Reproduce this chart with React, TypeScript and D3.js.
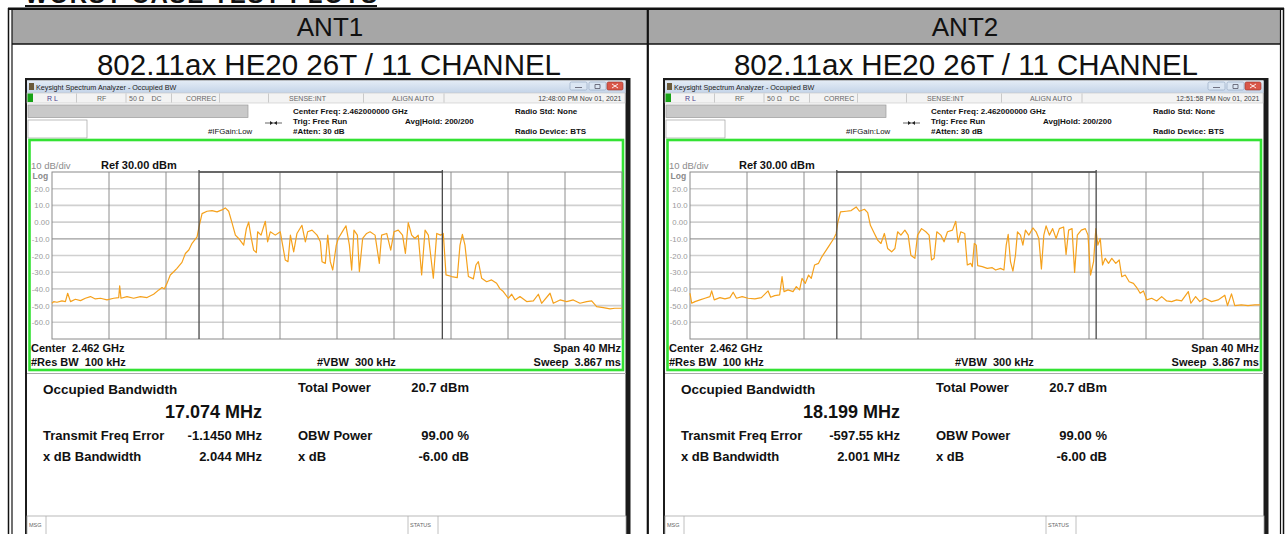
import React from 'react';
import * as d3 from 'd3';

type Pt = [number, number];

// table text
const antennas = ['ANT1', 'ANT2'];
const modeLabel = '802.11ax HE20 26T / 11 CHANNEL';

// analyzer readouts per antenna
const timestamps = ['12:48:00 PM Nov 01, 2021', '12:51:58 PM Nov 01, 2021'];
const obwMHz = [17.074, 18.199];
const freqErrMHz = [-1.145, -0.59755];
const freqErrText = ['-1.1450 MHz', '-597.55 kHz'];
const xdbBwText = ['2.044 MHz', '2.001 MHz'];
const totalPowerText = ['20.7 dBm', '20.7 dBm'];

// y axis labels (dBm)
const levelTicks = [20, 10, 0, -10, -20, -30, -40, -50, -60];
const levelTickText = ['20.0', '10.0', '0.00', '-10.0', '-20.0', '-30.0', '-40.0', '-50.0', '-60.0'];

// traces: [offset from center MHz, dBm]
const ant1Trace: Pt[] = [
  [-20, -48.6], [-19.88, -47.6], [-19.65, -48], [-19.3, -47.2], [-19.06, -47.6], [-18.9, -42.6], [-18.7, -47.6],
  [-18.36, -46.2], [-18, -47], [-17.66, -45.6], [-17.3, -44.6], [-16.96, -46], [-16.6, -45.6], [-16.14, -46.6],
  [-15.67, -45.6], [-15.32, -45.2], [-15.25, -38.2], [-15.16, -45.6], [-14.74, -44.6], [-14.27, -45.6], [-13.8, -44.6],
  [-13.33, -45.2], [-12.87, -43.2], [-12.5, -40.6], [-12.28, -39.2], [-12.12, -40], [-11.93, -36.7], [-11.7, -31.7],
  [-11.46, -29.7], [-11.23, -27.7], [-10.88, -24.1], [-10.64, -18.8], [-10.4, -16.7], [-10.17, -12.7], [-9.82, -8.8],
  [-9.66, -1.9], [-9.47, 5.1], [-9.12, 6.5], [-8.77, 6.9], [-8.42, 6.1], [-8.07, 7.3], [-7.84, 8.5], [-7.6, 6.5],
  [-7.37, -0.3], [-7.13, -7.8], [-6.9, -9.8], [-6.55, -13.8], [-6.36, -3.9], [-6.2, 0], [-6.03, -8.8], [-5.85, -16.8],
  [-5.66, -18.2], [-5.57, -5.8], [-5.33, -7.8], [-5.03, 0.5], [-4.87, -11.8], [-4.68, -5.8], [-4.33, -7.8], [-3.98, -5.8],
  [-3.63, -22.7], [-3.44, -23.7], [-3.27, -7.8], [-3.04, -17.8], [-2.81, -6.8], [-2.46, -1.9], [-2.22, -11.8],
  [-2.06, -5.8], [-1.75, -4.8], [-1.4, -7.8], [-1.17, -11.8], [-1.05, -23.7], [-0.82, -24.7], [-0.65, -7.8],
  [-0.47, -23.7], [-0.3, -28.7], [-0.05, -13.8], [0.09, -9.8], [0.44, -4.8], [0.63, -2.2], [0.87, -13.8], [1.03, -28.7],
  [1.19, -4.8], [1.43, -7.8], [1.57, -29.6], [1.8, -9.8], [2.08, -6.8], [2.32, -5.8], [2.67, -7.8], [2.97, -24.7],
  [3.13, -7.8], [3.49, -6.8], [3.77, -16.8], [4, -5.8], [4.3, -4.8], [4.6, -7.8], [4.8, -18.8], [5, -0.3], [5.24, -7.8],
  [5.47, -9.8], [5.7, -7.8], [5.94, -31.6], [6.18, -4.8], [6.41, -7.8], [6.76, -33.6], [7, -6.8], [7.27, -7.8],
  [7.46, -6.8], [7.65, -31.6], [8.05, -32.6], [8.44, -33.2], [8.63, -13.8], [8.8, -7.4], [8.98, -13.8], [9.22, -32.6],
  [9.57, -34], [9.75, -25.7], [9.92, -23.7], [10.15, -33.6], [10.5, -35.7], [10.85, -34.6], [11.2, -36.6], [11.44, -40],
  [11.67, -41.6], [12.02, -45.6], [12.26, -43.2], [12.49, -46.6], [12.84, -44.6], [13.31, -47.6], [13.78, -47.2],
  [14.13, -43.2], [14.36, -48.6], [14.95, -42.6], [15.18, -48.6], [15.65, -46.6], [16.12, -47.6], [16.58, -46.6],
  [17.05, -48.6], [17.52, -47.6], [17.87, -47.2], [18.22, -50.6], [18.69, -51.2], [19.16, -52], [19.5, -51.6], [20, -51.6],
];

const ant2Trace: Pt[] = [
  [-20, -42.6], [-19.88, -48.6], [-19.65, -47.6], [-19.3, -46.6], [-18.95, -45.6], [-18.6, -44.6], [-18.48, -41.2],
  [-18.3, -46.6], [-17.9, -45.2], [-17.55, -46], [-17.2, -45.2], [-16.97, -42], [-16.74, -45.6], [-16.34, -44.6],
  [-15.92, -45.6], [-15.45, -46], [-14.99, -45.2], [-14.52, -41.2], [-14.34, -45], [-14.06, -44], [-13.71, -43.6],
  [-13.54, -32.7], [-13.4, -41.6], [-13.12, -40.6], [-12.77, -41.6], [-12.54, -38.6], [-12.31, -40.6], [-12.14, -33.7],
  [-11.91, -36.7], [-11.68, -31.7], [-11.49, -33.7], [-11.26, -25.7], [-10.98, -24.7], [-10.75, -20.8], [-10.44, -16.8],
  [-10.21, -13.8], [-9.91, -9.8], [-9.74, -6.8], [-9.63, -0.3], [-9.44, 6.1], [-9.04, 6.5], [-8.69, 6.9], [-8.34, 9.1],
  [-8.11, 6.5], [-7.76, 7.7], [-7.53, 5.7], [-7.34, -1.9], [-7.06, -6.8], [-6.83, -10.8], [-6.6, -12.8], [-6.36, -6.8],
  [-6.13, -15.8], [-5.85, -17.8], [-5.62, -15.8], [-5.43, -5.8], [-5.2, -7.8], [-4.92, -4.8], [-4.69, -7.8], [-4.5, -19.8],
  [-4.22, -21.7], [-4.03, -7.8], [-3.75, -3.9], [-3.45, -5.8], [-3.22, -7.8], [-3.05, -22.7], [-2.87, -21.7], [-2.68, -5.8],
  [-2.4, -7.8], [-2.17, -11.8], [-1.93, -5.8], [-1.58, -4.8], [-1.35, 0.5], [-1.19, -12.2], [-1, -5.8], [-0.72, -6.8],
  [-0.54, -25.7], [-0.3, -24.7], [-0.19, -26.7], [-0.05, -12.8], [0.09, -13.8], [0.19, -26.1], [0.51, -26.7],
  [0.86, -27.7], [1.21, -27.3], [1.45, -28.7], [1.79, -27.7], [2.03, -28.7], [2.19, -13.8], [2.33, -7.4], [2.49, -23.7],
  [2.66, -29.3], [2.84, -19.8], [2.98, -5.8], [3.19, -7.8], [3.36, -13.8], [3.54, -4.8], [3.78, -7.8], [4.06, -3.5],
  [4.29, -5.8], [4.48, -9.8], [4.66, -28.1], [4.83, -7.8], [4.99, -2.3], [5.22, -7.8], [5.45, -3.9], [5.69, -9.8],
  [5.92, -3.9], [6.22, -2.9], [6.39, -19.4], [6.57, -4.8], [6.81, -3.9], [6.99, -30.1], [7.18, -7.8], [7.46, -4.8],
  [7.74, -3.9], [7.93, -7.8], [8.11, -31.7], [8.32, -23.7], [8.48, -3.9], [8.62, -13.8], [8.79, -9.8], [8.95, -25.7],
  [9.14, -21.7], [9.37, -24.7], [9.6, -21.7], [9.88, -24.7], [10.12, -22.7], [10.3, -32.7], [10.54, -31.7],
  [10.82, -35.7], [11.12, -36.7], [11.35, -39.2], [11.59, -42.6], [11.82, -41.2], [12.05, -46.6], [12.4, -45.6],
  [12.75, -47.2], [13.1, -44.6], [13.45, -47.2], [13.8, -47.6], [14.15, -46.6], [14.5, -47.2], [14.97, -41.6],
  [15.15, -48.6], [15.48, -44.6], [15.78, -47.6], [16.13, -45.6], [16.6, -47.6], [17.06, -46.6], [17.53, -43.8],
  [17.72, -50], [18, -43], [18.23, -50], [18.69, -49.6], [19.16, -50], [19.63, -49.6], [20, -49.6],
];

const traces = [ant1Trace, ant2Trace];
const FONT = "'Liberation Sans', Arial, sans-serif";

function Screen({ idx }: { idx: number }) {
  const ox = idx === 0 ? 0 : 638;
  const x = d3.scaleLinear().domain([-20, 20]).range([52 + ox, 622 + ox]);
  const y = d3.scaleLinear().domain([-70, 30]).range([339, 172]);
  const line = d3.line<Pt>().x(d => x(d[0])).y(d => y(d[1]));
  const gridX = d3.range(-16, 20, 4);
  const gridY = d3.range(-60, 30, 10);
  const mL = x(freqErrMHz[idx] - obwMHz[idx] / 2);
  const mR = x(freqErrMHz[idx] + obwMHz[idx] / 2);
  const X = (v: number) => v + ox;
  const gid = `tb${idx}`;
  const small = { fontSize: 7, fill: '#666' };
  const hdr = { fontSize: 8, fontWeight: 700, fill: '#111' };
  const foot = { fontSize: 11, fontWeight: 700, fill: '#111', style: { whiteSpace: 'pre' as const } };
  const big = { fontSize: 13, fontWeight: 700, fill: '#111' };

  return (
    <g>
      <defs>
        <linearGradient id={gid} x1="0" y1="0" x2="0" y2="1">
          <stop offset="0" stopColor="#e4ecf6" />
          <stop offset="1" stopColor="#c4d4e8" />
        </linearGradient>
      </defs>
      {/* window frame */}
      <rect x={X(25)} y={78} width={605.5} height={470} fill="#1b1b1b" />
      <rect x={X(27)} y={80.5} width={598.5} height={470} fill="#fff" />
      <rect x={X(27)} y={80.5} width={598.5} height={12.5} fill={`url(#${gid})`} />
      <rect x={X(29)} y={83} width={5} height={7} fill="#6a5a3a" />
      <text x={X(36)} y={89.5} fontSize={7.2} fill="#222">Keysight Spectrum Analyzer - Occupied BW</text>
      <rect x={X(570)} y={82} width={17} height={8} rx={1.5} fill="#dbe6f3" stroke="#8ea2bd" strokeWidth={0.6} />
      <rect x={X(589)} y={82} width={17} height={8} rx={1.5} fill="#dbe6f3" stroke="#8ea2bd" strokeWidth={0.6} />
      <rect x={X(607)} y={82} width={16} height={8} rx={1.5} fill="#d9584a" stroke="#9a3024" strokeWidth={0.6} />
      <path d={`M${X(575)},87.5h7M${X(595)},84.5h5v4h-5z`} stroke="#556" strokeWidth={0.8} fill="none" />
      <path d={`M${X(612)},84l6,4M${X(618)},84l-6,4`} stroke="#fff" strokeWidth={0.9} />

      {/* status row */}
      <rect x={X(27)} y={93} width={598} height={10} fill="#f3f3f3" stroke="#c6c6c6" strokeWidth={0.6} />
      <rect x={X(27.5)} y={93.5} width={5.5} height={8.5} fill="#17a317" />
      <text x={X(47)} y={100.5} fontSize={7} fill="#4a3c8c">R L</text>
      {[76.5, 126, 171.5, 219.5, 268.5, 363.5, 444].map(v => (
        <line key={v} x1={X(v)} x2={X(v)} y1={93.5} y2={102.5} stroke="#b8b8b8" strokeWidth={0.7} />
      ))}
      <text x={X(97)} y={100.5} {...small}>RF</text>
      <text x={X(129)} y={100.5} {...small}>50 Ω</text>
      <text x={X(151.5)} y={100.5} {...small}>DC</text>
      <text x={X(186)} y={100.5} {...small}>CORREC</text>
      <text x={X(289)} y={100.5} {...small}>SENSE:INT</text>
      <text x={X(392)} y={100.5} {...small}>ALIGN AUTO</text>
      <text x={X(621.5)} y={100.5} {...small} textAnchor="end" fill="#444">{timestamps[idx]}</text>

      {/* control area */}
      <rect x={X(28)} y={105} width={220} height={12.5} fill="#c9c9c9" stroke="#9a9a9a" strokeWidth={0.7} />
      <rect x={X(28)} y={120} width={59} height={18} fill="#fff" stroke="#a0a0a0" strokeWidth={0.7} />
      <text x={X(208)} y={133.5} fontSize={7.8} fill="#111">#IFGain:Low</text>
      <path d={`M${X(265)},123h17`} stroke="#222" strokeWidth={0.7} />
      <path d={`M${X(270)},121l3,2l-3,2zM${X(277)},121l-3,2l3,2z`} fill="#222" />
      <text x={X(293)} y={114} {...hdr}>Center Freq: 2.462000000 GHz</text>
      <text x={X(293)} y={123.5} {...hdr}>Trig: Free Run</text>
      <text x={X(293)} y={133.5} {...hdr}>#Atten: 30 dB</text>
      <text x={X(405)} y={123.5} {...hdr}>Avg|Hold: 200/200</text>
      <text x={X(515)} y={114} {...hdr}>Radio Std: None</text>
      <text x={X(515)} y={133.5} {...hdr}>Radio Device: BTS</text>

      {/* graticule */}
      <rect x={X(29.5)} y={140} width={593.5} height={230} fill="#fff" stroke="#33e233" strokeWidth={2.6} />
      <text x={X(31)} y={168.5} fontSize={9.5} fill="#8c8c8c">10 dB/div</text>
      <text x={X(101)} y={169} fontSize={11} fontWeight={700} fill="#111">Ref 30.00 dBm</text>
      <text x={X(32.5)} y={178.5} fontSize={8.5} fontWeight={700} fill="#8a8a8a">Log</text>
      {gridY.map(v => (
        <line key={v} x1={x(-20)} x2={x(20)} y1={y(v)} y2={y(v)}
          stroke={v === -10 ? '#9c9c9c' : '#d0d0d0'} strokeWidth={v === -10 ? 1.2 : 1.6} />
      ))}
      {gridX.map(v => (
        <line key={v} x1={x(v)} x2={x(v)} y1={y(30)} y2={y(-70)} stroke="#8e8e8e" strokeWidth={1} />
      ))}
      <rect x={x(-20)} y={y(30)} width={x(20) - x(-20)} height={y(-70) - y(30)} fill="none" stroke="#8a8a8a" strokeWidth={1} />
      {levelTicks.map((v, i) => (
        <text key={v} x={X(49.5)} y={y(v) + 3} fontSize={7.8} fill="#9a9a9a" textAnchor="end">{levelTickText[i]}</text>
      ))}
      <path d={line(traces[idx]) || ''} fill="none" stroke="#f5a11c" strokeWidth={1.2} strokeLinejoin="round" />
      {/* occupied bandwidth markers */}
      <path d={`M${mL},${y(-70)}V${y(30) - 2}M${mR},${y(-70)}V${y(30) - 2}M${mL},${y(30)}H${mR}`}
        fill="none" stroke="#4a4a4a" strokeWidth={1.3} />

      <text x={X(31)} y={352} {...foot}>Center  2.462 GHz</text>
      <text x={X(31)} y={365.5} {...foot}>#Res BW  100 kHz</text>
      <text x={X(317)} y={365.5} {...foot}>#VBW  300 kHz</text>
      <text x={X(621)} y={352} {...foot} textAnchor="end">Span 40 MHz</text>
      <text x={X(621)} y={365.5} {...foot} textAnchor="end">Sweep  3.867 ms</text>

      {/* measurement panel */}
      <line x1={X(27)} x2={X(626)} y1={373.5} y2={373.5} stroke="#aaa" strokeWidth={1} />
      <text x={X(43)} y={394} fontSize={13.5} fontWeight={700} fill="#111">Occupied Bandwidth</text>
      <text x={X(262)} y={417.5} fontSize={18} fontWeight={700} fill="#111" textAnchor="end">
        {obwMHz[idx].toFixed(3)} MHz
      </text>
      <text x={X(298)} y={391.5} {...big}>Total Power</text>
      <text x={X(469)} y={391.5} {...big} textAnchor="end">{totalPowerText[idx]}</text>
      <text x={X(43)} y={439.5} {...big}>Transmit Freq Error</text>
      <text x={X(262)} y={439.5} {...big} textAnchor="end">{freqErrText[idx]}</text>
      <text x={X(298)} y={439.5} {...big}>OBW Power</text>
      <text x={X(469)} y={439.5} {...big} textAnchor="end">99.00 %</text>
      <text x={X(43)} y={460.5} {...big}>x dB Bandwidth</text>
      <text x={X(262)} y={460.5} {...big} textAnchor="end">{xdbBwText[idx]}</text>
      <text x={X(298)} y={460.5} {...big}>x dB</text>
      <text x={X(469)} y={460.5} {...big} textAnchor="end">-6.00 dB</text>

      {/* message bar */}
      <rect x={X(27)} y={516} width={599} height={22} fill="#fff" stroke="#a8a8a8" strokeWidth={0.8} />
      {[46, 408, 438].map(v => (
        <line key={v} x1={X(v)} x2={X(v)} y1={516} y2={534} stroke="#b0b0b0" strokeWidth={0.8} />
      ))}
      <text x={X(29)} y={527} fontSize={5.5} fill="#666">MSG</text>
      <text x={X(410)} y={527} fontSize={5.5} fill="#666">STATUS</text>
    </g>
  );
}

export default function App() {
  return (
    <svg width={1286} height={534} fontFamily={FONT}
      style={{ position: 'absolute', left: 0, top: 0, background: '#fff' }}>
      {/* report heading, cut by the page edge as in the source */}
      <text x={25} y={3} fontSize={24} fontWeight={700} textLength={352} fill="#111">WORST CASE TEST PLOTS</text>
      <line x1={25} x2={377} y1={6} y2={6} stroke="#111" strokeWidth={2} />

      {/* table */}
      <rect x={12} y={10} width={1269} height={34} fill="#a6a6a6" />
      <line x1={8} x2={1284} y1={8.7} y2={8.7} stroke="#111" strokeWidth={2.6} />
      <line x1={12} x2={1281} y1={44} y2={44} stroke="#111" strokeWidth={1.5} />
      <line x1={8.5} x2={8.5} y1={8} y2={534} stroke="#111" strokeWidth={1.5} />
      <line x1={12} x2={12} y1={10} y2={534} stroke="#111" strokeWidth={1.2} />
      <line x1={1280.5} x2={1280.5} y1={10} y2={534} stroke="#111" strokeWidth={1.2} />
      <line x1={1283.5} x2={1283.5} y1={8} y2={534} stroke="#111" strokeWidth={1.5} />
      <line x1={647.8} x2={647.8} y1={9} y2={534} stroke="#111" strokeWidth={2.2} />
      {antennas.map((a, i) => (
        <g key={a}>
          <text x={i === 0 ? 330 : 965} y={36} fontSize={26} textAnchor="middle" fill="#111">{a}</text>
          <text x={i === 0 ? 329 : 966} y={75} fontSize={29.5} textAnchor="middle" fill="#111">{modeLabel}</text>
        </g>
      ))}
      <Screen idx={0} />
      <Screen idx={1} />
    </svg>
  );
}
